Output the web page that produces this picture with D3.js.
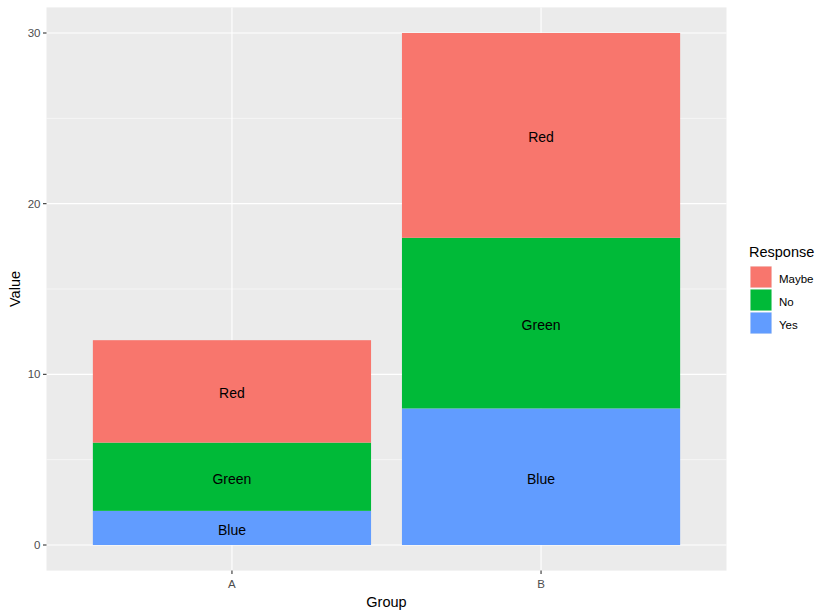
<!DOCTYPE html>
<html><head><meta charset="utf-8">
<script src="https://cdn.jsdelivr.net/npm/d3@7"></script>
<style>body{margin:0;background:#fff}svg{font-family:"Liberation Sans",Arial,sans-serif}</style>
</head><body><svg id="c" width="830" height="616"></svg>
<script>
const groups = ["A", "B"];
const responses = ["Yes", "No", "Maybe"]; // stacking order bottom to top
const legendOrder = ["Maybe", "No", "Yes"];
const labelsByResponse = {Yes: "Blue", No: "Green", Maybe: "Red"};
const valuesA = [2, 4, 6];
const valuesB = [8, 10, 12];
const yTicks = [0, 10, 20, 30];
const colors = {Maybe: "#F8766D", No: "#00BA38", Yes: "#619CFF"};

const svg = d3.select("#c");
const pl = 46.5, pr = 726.5, pt = 7.4, pb = 570.6;
const rows = groups.map((g, i) => {
  const vals = i === 0 ? valuesA : valuesB;
  const o = {group: g};
  responses.forEach((r, j) => o[r] = vals[j]);
  return o;
});
const stack = d3.stack().keys(responses)(rows);
const unit = (pr - pl) / 2.2;
const xs = d3.scaleLinear().domain([0.4, 2.6]).range([pl, pr]);
const y = d3.scaleLinear().domain([-1.5, 31.5]).range([pb, pt]);

svg.append("rect").attr("x", pl).attr("y", pt).attr("width", pr - pl).attr("height", pb - pt).attr("fill", "#EBEBEB");
[5, 15, 25].forEach(v => svg.append("line").attr("x1", pl).attr("x2", pr).attr("y1", y(v)).attr("y2", y(v)).attr("stroke", "#fff").attr("stroke-width", 0.55));
yTicks.forEach(v => svg.append("line").attr("x1", pl).attr("x2", pr).attr("y1", y(v)).attr("y2", y(v)).attr("stroke", "#fff").attr("stroke-width", 1.1));
groups.forEach((g, i) => svg.append("line").attr("x1", xs(i + 1)).attr("x2", xs(i + 1)).attr("y1", pt).attr("y2", pb).attr("stroke", "#fff").attr("stroke-width", 1.1));

const bw = unit * 0.9;
stack.forEach(layer => {
  const key = layer.key;
  layer.forEach((d, i) => {
    const cx = xs(i + 1);
    svg.append("rect").attr("x", cx - bw / 2).attr("width", bw)
      .attr("y", y(d[1])).attr("height", y(d[0]) - y(d[1])).attr("fill", colors[key]);
    svg.append("text").attr("x", cx).attr("y", y((d[0] + d[1]) / 2) + 2).attr("dy", "0.35em")
      .attr("text-anchor", "middle").attr("font-size", 14).attr("fill", "#000").text(labelsByResponse[key]);
  });
});

yTicks.forEach(v => {
  svg.append("line").attr("x1", pl - 3.5).attr("x2", pl).attr("y1", y(v)).attr("y2", y(v)).attr("stroke", "#333").attr("stroke-width", 1.1);
  svg.append("text").attr("x", pl - 6).attr("y", y(v)).attr("dy", "0.35em").attr("text-anchor", "end").attr("font-size", 11.5).attr("fill", "#4D4D4D").text(v);
});
groups.forEach((g, i) => {
  svg.append("line").attr("x1", xs(i + 1)).attr("x2", xs(i + 1)).attr("y1", pb).attr("y2", pb + 3.5).attr("stroke", "#333").attr("stroke-width", 1.1);
  svg.append("text").attr("x", xs(i + 1)).attr("y", pb + 17).attr("text-anchor", "middle").attr("font-size", 11.5).attr("fill", "#4D4D4D").text(g);
});
svg.append("text").attr("x", (pl + pr) / 2).attr("y", 607).attr("text-anchor", "middle").attr("font-size", 14.5).attr("fill", "#000").text("Group");
svg.append("text").attr("transform", `translate(20,${(pt + pb) / 2}) rotate(-90)`).attr("text-anchor", "middle").attr("font-size", 14.5).attr("fill", "#000").text("Value");

svg.append("text").attr("x", 749).attr("y", 257).attr("font-size", 14.5).attr("fill", "#000").text("Response");
legendOrder.forEach((r, i) => {
  const ky = 266 + i * 23;
  svg.append("rect").attr("x", 750).attr("y", ky).attr("width", 22).attr("height", 22).attr("fill", "#F2F2F2");
  svg.append("rect").attr("x", 750.5).attr("y", ky + 0.5).attr("width", 21).attr("height", 21).attr("fill", colors[r]);
  svg.append("text").attr("x", 779).attr("y", ky + 13).attr("dy", "0.35em").attr("font-size", 11.5).attr("fill", "#000").text(r);
});
</script></body></html>
